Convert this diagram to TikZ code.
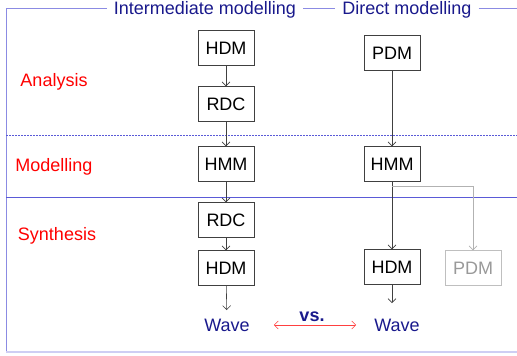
\documentclass[tikz,border=0pt]{standalone}
\usepackage{fontspec}
\setmainfont{Liberation Sans}
\usetikzlibrary{arrows.meta}
\definecolor{navy}{RGB}{25,25,140}
\definecolor{boxgray}{RGB}{64,64,64}
\definecolor{frameblue}{RGB}{90,90,215}

\begin{document}
\begin{tikzpicture}[->,>={Straight Barb[length=4pt,width=8pt]},x=1pt,y=-1pt,
        font=\fontsize{18}{20}\selectfont,
        block/.style={draw=boxgray,rectangle,minimum width=56pt,minimum height=35pt,inner sep=0pt},
        ghost/.style={block,draw=gray!50,text=gray!80},
        phase/.style={text=red},
        title/.style={text=navy,inner xsep=7pt,anchor=base},
        wave/.style={text=navy,inner sep=2pt},
        arr/.style={boxgray,line width=0.6pt},
        frame/.style={-,frameblue,line width=0.6pt}]

  \useasboundingbox (0,0) rectangle (517,356);

  % column titles and frame
  \node[title] (im) at (205,15) {Intermediate modelling};
  \node[title] (dm) at (407,15) {Direct modelling};
  \draw[frame,frameblue!70] (6,352) -- (6,8) -- (im.west |- 6,8);
  \draw[frame,frameblue!70] (im.east |- 6,8) -- (dm.west |- 6,8);
  \draw[frame,frameblue!70] (dm.east |- 6,8) -- (517,8);
  \draw[frame,dash pattern=on 2pt off 1pt] (6,135) -- (517,135);
  \draw[frame] (6,197) -- (517,197);
  \draw[frame,frameblue!30,line width=1.5pt] (6,352) -- (517,352);

  % phases
  \node[phase] (ana) at (54,82) {Analysis};
  \node[phase] (mod) at (54,167) {Modelling};
  \node[phase] (syn) at (57,236) {Synthesis};

  % intermediate modelling
  \node[block] (hdm1) at (226,48) {HDM};
  \node[block] (rdc1) at (226,104) {RDC};
  \node[block] (hmm1) at (226,164) {HMM};
  \node[block] (rdc2) at (226,220) {RDC};
  \node[block] (hdm2) at (226,268) {HDM};
  \node[wave] (wave1) at (227,325) {Wave};

  % direct modelling
  \node[block] (pdm1) at (392,53) {PDM};
  \node[block] (hmm2) at (392,164) {HMM};
  \node[block] (hdm3) at (392,267) {HDM};
  \node[ghost] (pdm2) at (473,268) {PDM};
  \node[wave] (wave2) at (397,325) {Wave};

  \path[arr] (hdm1) edge (rdc1)
        (rdc1) edge (hmm1)
        (hmm1) edge (rdc2)
        (rdc2) edge (hdm2)
        (pdm1) edge (hmm2)
        (hmm2) edge (hdm3);
  \draw[arr,shorten >=6.5pt] (hdm2) -- (wave1);
  \draw[arr,shorten >=13.5pt] (hdm3) -- (hdm3 |- wave2.north);

  \path (hmm2.south) ++(0,5) coordinate (br);
  \draw[arr,gray!60] (br) -| (pdm2);

  \draw[<->,red!75,line width=0.6pt,shorten <=22pt,shorten >=16pt] (wave1.east) -- (wave2.west)
    node[midway,above=2pt,inner sep=1pt,text=navy,font=\fontsize{18}{20}\selectfont\bfseries] (vs) {vs.};

\end{tikzpicture}
\end{document}
